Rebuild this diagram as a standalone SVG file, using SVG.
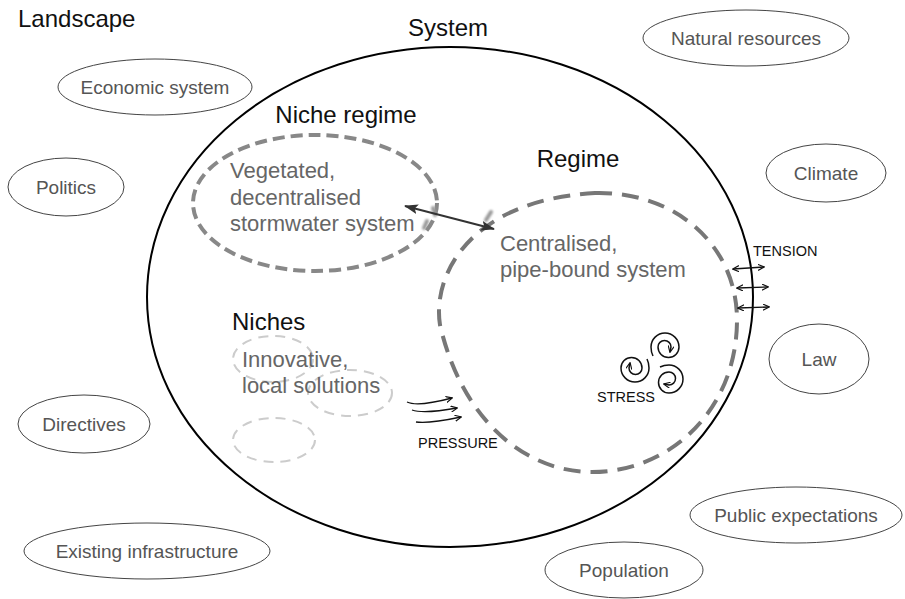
<svg xmlns="http://www.w3.org/2000/svg" width="905" height="599" viewBox="0 0 905 599">
<style>
  text { font-family: "Liberation Sans", Arial, sans-serif; }
  .hdr { font-size: 24px; fill: #111; }
  .body { font-size: 22px; fill: #666; }
  .lbl { font-size: 19px; fill: #555; text-anchor: middle; }
  .cap { font-size: 14.5px; fill: #111; }
  .land { fill: #fff; stroke: #444; stroke-width: 1; }
  .thin { fill: none; stroke: #111; stroke-width: 1.3; }
  .spir { fill: none; stroke: #111; stroke-width: 1.5; }
</style>
<defs>
  <marker id="bigHead" viewBox="0 0 14 10" refX="13" refY="5" markerWidth="14" markerHeight="10" markerUnits="userSpaceOnUse" orient="auto-start-reverse">
    <path d="M0,0 L14,5 L0,10 L3,5 Z" fill="#333"/>
  </marker>
  <marker id="smallHead" viewBox="0 0 8 8" refX="7" refY="4" markerWidth="7" markerHeight="7" markerUnits="userSpaceOnUse" orient="auto-start-reverse">
    <path d="M0,0.5 L7.5,4 L0,7.5" fill="none" stroke="#111" stroke-width="1.3"/>
  </marker>
  <filter id="blur" x="-50%" y="-50%" width="200%" height="200%">
    <feGaussianBlur stdDeviation="1.2"/>
  </filter>
  <path id="spiral" class="spir" d="M-12,9 Q-14,5 -14,0 A14,14 0 0,1 14,0 A10.5,10.5 0 0,1 -7,0 A6.5,6.5 0 0,1 6,0 L5,5" marker-end="url(#smallHead)"/>
</defs>

<rect width="905" height="599" fill="#fff"/>

<g id="landscape">
  <text class="hdr" x="18" y="27">Landscape</text>
</g>

<g id="node-economic"><ellipse class="land" cx="155" cy="87" rx="97" ry="28"/><text class="lbl" x="155" y="94">Economic system</text></g>
<g id="node-natural"><ellipse class="land" cx="746" cy="38" rx="103" ry="28"/><text class="lbl" x="746" y="45">Natural resources</text></g>
<g id="node-politics"><ellipse class="land" cx="66" cy="187" rx="58" ry="29"/><text class="lbl" x="66" y="194">Politics</text></g>
<g id="node-climate"><ellipse class="land" cx="826" cy="173" rx="60" ry="29"/><text class="lbl" x="826" y="180">Climate</text></g>
<g id="node-law"><ellipse class="land" cx="819" cy="359" rx="50" ry="35"/><text class="lbl" x="819" y="366">Law</text></g>
<g id="node-directives"><ellipse class="land" cx="84" cy="424" rx="66" ry="29"/><text class="lbl" x="84" y="431">Directives</text></g>
<g id="node-public"><ellipse class="land" cx="796" cy="515" rx="106" ry="28"/><text class="lbl" x="796" y="522">Public expectations</text></g>
<g id="node-existing"><ellipse class="land" cx="147" cy="551" rx="123" ry="28"/><text class="lbl" x="147" y="558">Existing infrastructure</text></g>
<g id="node-population"><ellipse class="land" cx="624" cy="570" rx="79" ry="28"/><text class="lbl" x="624" y="577">Population</text></g>

<g id="node-system">
  <ellipse cx="450" cy="297" rx="303" ry="250" fill="none" stroke="#000" stroke-width="2"/>
  <text class="hdr" x="448" y="36" text-anchor="middle">System</text>
</g>

<g id="node-niche-regime">
  <ellipse cx="315" cy="203" rx="122" ry="68" fill="none" stroke="#888" stroke-width="4" stroke-dasharray="12 6"/>
  <text class="hdr" x="346" y="123" text-anchor="middle">Niche regime</text>
  <text class="body" x="230" y="178">Vegetated,</text>
  <text class="body" x="230" y="205">decentralised</text>
  <text class="body" x="230" y="231">stormwater system</text>
</g>

<g id="node-regime">
  <path d="M595,193 C675,191 737,245 737,320 C737,410 670,472 592,472 C525,472 462,420 440,325 C432,275 470,200 595,193 Z" fill="none" stroke="#777" stroke-width="4" stroke-dasharray="17 10"/>
  <text class="hdr" x="578" y="167" text-anchor="middle">Regime</text>
  <text class="body" x="500" y="251">Centralised,</text>
  <text class="body" x="500" y="277">pipe-bound system</text>
</g>

<g id="node-niches">
  <text class="hdr" x="232" y="330">Niches</text>
  <ellipse cx="273" cy="359" rx="40" ry="23" fill="none" stroke="#ccc" stroke-width="2" stroke-dasharray="10 7"/>
  <ellipse cx="350" cy="393" rx="42" ry="23" fill="none" stroke="#ccc" stroke-width="2" stroke-dasharray="10 7"/>
  <ellipse cx="274" cy="440" rx="41" ry="22" fill="none" stroke="#ccc" stroke-width="2" stroke-dasharray="10 7"/>
  <text class="body" x="242" y="367">Innovative,</text>
  <text class="body" x="242" y="393">local solutions</text>
</g>

<g id="connectors">
  <g filter="url(#blur)" stroke="#999" stroke-width="4" stroke-linecap="round">
    <line x1="433" y1="208" x2="435" y2="215"/>
    <line x1="427" y1="221" x2="424" y2="228"/>
    <line x1="491" y1="212" x2="486" y2="220"/>
  </g>
  <line x1="405" y1="206" x2="494" y2="229" stroke="#333" stroke-width="2" marker-start="url(#bigHead)" marker-end="url(#bigHead)"/>

  <g id="pressure">
    <path class="thin" d="M407,402 Q418,407 452,398" marker-end="url(#smallHead)"/>
    <path class="thin" d="M412,410 Q424,414 457,408" marker-end="url(#smallHead)"/>
    <path class="thin" d="M416,422 Q428,424 461,417" marker-end="url(#smallHead)"/>
    <text class="cap" x="418" y="448">PRESSURE</text>
  </g>

  <g id="tension">
    <line class="thin" x1="733" y1="269" x2="764" y2="267" marker-start="url(#smallHead)" marker-end="url(#smallHead)"/>
    <line class="thin" x1="737" y1="288" x2="768" y2="287" marker-start="url(#smallHead)" marker-end="url(#smallHead)"/>
    <line class="thin" x1="738" y1="308" x2="769" y2="307" marker-start="url(#smallHead)" marker-end="url(#smallHead)"/>
    <text class="cap" x="753" y="256">TENSION</text>
  </g>

  <g id="stress">
    <use href="#spiral" transform="translate(665,347)"/>
    <use href="#spiral" transform="translate(635,368) rotate(180)"/>
    <use href="#spiral" transform="translate(669,379) rotate(90)"/>
    <text class="cap" x="597" y="402">STRESS</text>
  </g>
</g>
</svg>
